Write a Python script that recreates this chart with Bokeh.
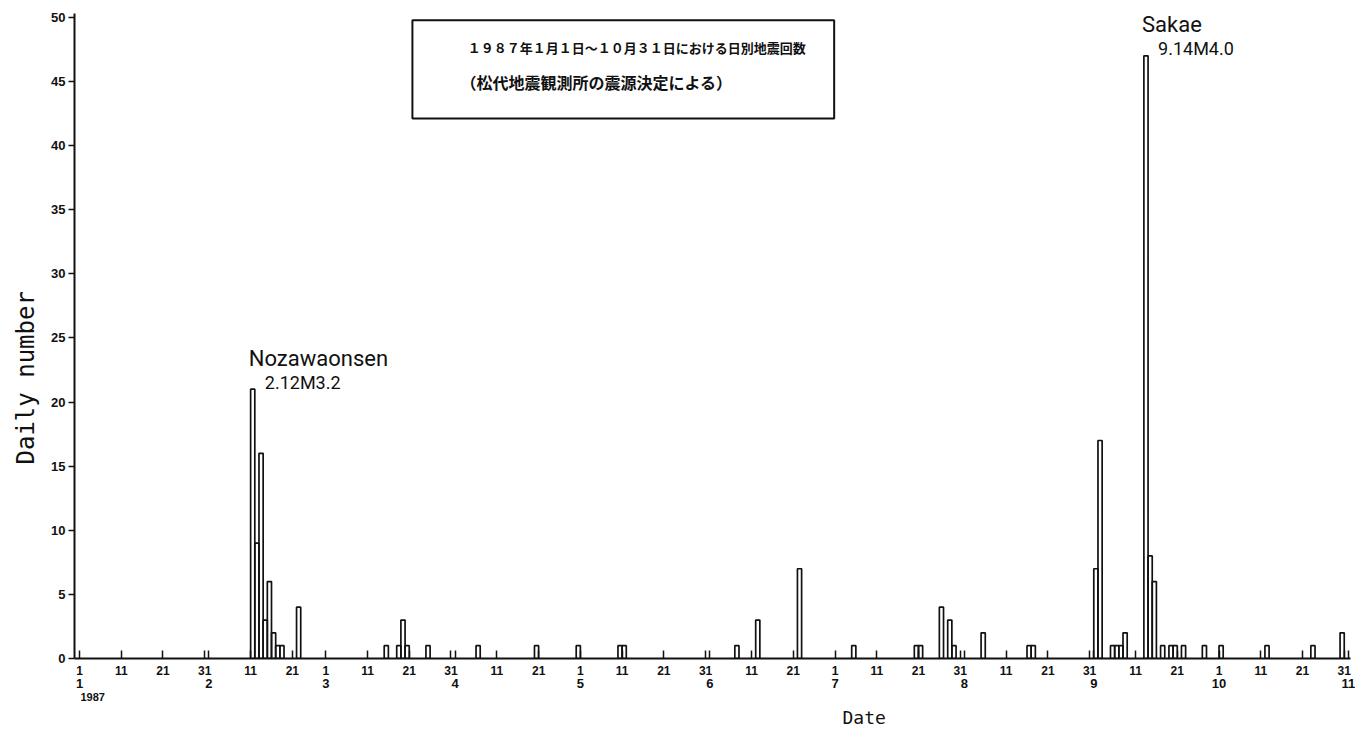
import math
from bokeh.plotting import figure
from bokeh.models import (Range1d, FixedTicker, LinearAxis, Label, BoxAnnotation,
                          ColumnDataSource, Title)
from bokeh.transform import dodge
from bokeh.embed import file_html
from bokeh.resources import INLINE

# ---------------- data ----------------
# day of year (1 = 1 Jan 1987) and daily number of earthquakes
days = [43, 44, 45, 46, 47, 48, 49, 50, 54,
        75, 78, 79, 80, 85,
        97, 111,
        121, 131, 132,
        159, 164, 174,
        187, 202, 203, 208, 210, 211,
        218, 229, 230,
        245, 246, 249, 250, 251, 252, 257, 258, 259, 261, 263, 264, 266, 271,
        275, 286, 297, 304]
counts = [21, 9, 16, 3, 6, 2, 1, 1, 4,
          1, 1, 3, 1, 1,
          1, 1,
          1, 1, 1,
          1, 3, 7,
          1, 1, 1, 4, 3, 1,
          2, 1, 1,
          7, 17, 1, 1, 1, 2, 47, 8, 6, 1, 1, 1, 1, 1,
          1, 1, 1, 2]

day_ticks = [1, 11, 21, 31, 32, 42, 52, 60, 70, 80, 90, 91, 101, 111, 121, 131,
             141, 151, 152, 162, 172, 182, 192, 202, 212, 213, 223, 233, 243,
             244, 254, 264, 274, 284, 294, 304, 305]
day_labels = ["1", "11", "21", "31", "", "11", "21", "1", "11", "21", "31", "",
              "11", "21", "1", "11", "21", "31", "", "11", "21", "1", "11", "21",
              "31", "", "11", "21", "31", "", "11", "21", "1", "11", "21", "31", ""]
month_ticks = [1, 32, 60, 91, 121, 152, 182, 213, 244, 274, 305]
month_labels = ["1", "2", "3", "4", "5", "6", "7", "8", "9", "10", "11"]
y_ticks = [0, 5, 10, 15, 20, 25, 30, 35, 40, 45, 50]

year_label = "1987"
x_title = "Date"
y_title = "Daily number"
title_line1 = "１９８７年１月１日～１０月３１日における日別地震回数"
title_line2 = "（松代地震観測所の震源決定による）"
events = [  # (day, count, name, info)
    (43, 21, "Nozawaonsen", "2.12M3.2"),
    (257, 47, "Sakae", "9.14M4.0"),
]

# ---------------- figure ----------------
p = figure(width=1355, height=731, output_backend="svg", toolbar_location=None,
           x_range=Range1d(-0.196, 305.5), y_range=Range1d(0, 50.3),
           x_axis_type=None, y_axis_type=None,
           min_border_left=72, min_border_right=5, min_border_top=13,
           min_border_bottom=73)
p.outline_line_color = None
p.background_fill_color = "white"
p.border_fill_color = "white"

INK = "#111111"
TICKFONT = "Liberation Sans"

src = ColumnDataSource(dict(day=days, count=counts))
p.vbar(x=dodge("day", -0.5), top="count", bottom=0, width=1.0, source=src,
       fill_color=None, line_color=INK, line_width=1.7)

yax = LinearAxis(ticker=FixedTicker(ticks=y_ticks, minor_ticks=[]),
                 major_tick_out=6, major_tick_in=0, minor_tick_out=0, minor_tick_in=0,
                 axis_line_width=2, axis_line_color=INK,
                 major_tick_line_width=1.5, major_tick_line_color=INK,
                 major_label_standoff=3,
                 major_label_text_font=TICKFONT, major_label_text_font_style="bold",
                 major_label_text_font_size="13px", major_label_text_color=INK)
p.add_layout(yax, "left")
p.add_layout(Title(text=y_title, align="left", offset=194, standoff=18,
                   text_font="DejaVu Sans Mono", text_font_style="normal",
                   text_font_size="24px", text_color=INK), "left")

xax = LinearAxis(ticker=FixedTicker(ticks=day_ticks, minor_ticks=[]),
                 major_label_overrides=dict(zip(day_ticks, day_labels)),
                 major_tick_in=8, major_tick_out=0, minor_tick_in=0, minor_tick_out=0,
                 axis_line_width=2, axis_line_color=INK,
                 major_tick_line_width=1.5, major_tick_line_color=INK,
                 major_label_standoff=7,
                 major_label_text_font=TICKFONT, major_label_text_font_style="bold",
                 major_label_text_font_size="12px", major_label_text_color=INK)
p.add_layout(xax, "below")

max_ = LinearAxis(ticker=FixedTicker(ticks=month_ticks, minor_ticks=[]),
                  major_label_overrides=dict(zip(month_ticks, month_labels)),
                  axis_line_color=None, major_tick_line_color=None,
                  major_tick_in=0, major_tick_out=0, minor_tick_in=0, minor_tick_out=0,
                  major_label_standoff=1,
                  major_label_text_font=TICKFONT, major_label_text_font_style="bold",
                  major_label_text_font_size="13px", major_label_text_color=INK)
p.add_layout(max_, "below")

p.add_layout(Title(text=year_label, align="left", offset=6, standoff=0,
                   text_font=TICKFONT, text_font_style="bold",
                   text_font_size="11px", text_color=INK), "below")
p.add_layout(Title(text=x_title, align="left", offset=768, standoff=8,
                   text_font="DejaVu Sans Mono", text_font_style="normal",
                   text_font_size="18px", text_color=INK), "below")

# event annotations
for d, c, name, info in events:
    p.add_layout(Label(x=d, y=c, x_offset=-6, y_offset=31, text=name,
                       text_baseline="alphabetic", text_font="Roboto",
                       text_font_size="22px", text_color=INK))
    p.add_layout(Label(x=d, y=c, x_offset=10, y_offset=7, text=info,
                       text_baseline="alphabetic", text_font="Roboto",
                       text_font_size="18px", text_color=INK))

# title box
p.add_layout(BoxAnnotation(left=80.76, right=181.8, top=49.77, bottom=42.12,
                           fill_color=None, fill_alpha=0, line_color=INK,
                           line_alpha=1.0, line_width=2))
p.add_layout(Label(x=94.0, y=47.66, text=title_line1, text_baseline="middle",
                   text_font="Noto Sans CJK JP", text_font_style="bold",
                   text_font_size="13px", text_color=INK))
p.add_layout(Label(x=92.3, y=44.93, text=title_line2, text_baseline="middle",
                   text_font="Noto Sans CJK JP", text_font_style="bold",
                   text_font_size="16px", text_color=INK))

with open("out.html", "w") as f:
    f.write(file_html(p, INLINE))
